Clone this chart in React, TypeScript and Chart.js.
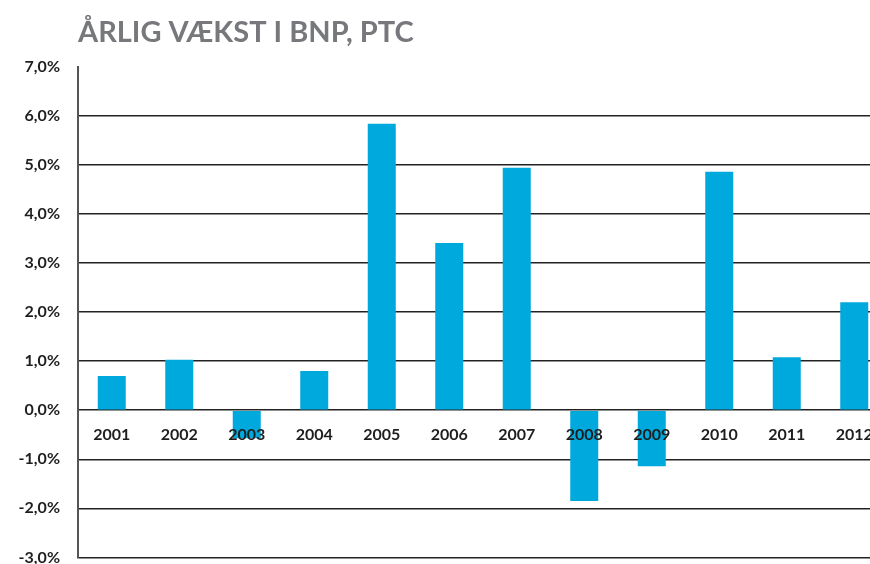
import { useEffect, useRef } from 'react';
import { Chart, registerables } from 'chart.js';

Chart.register(...registerables);

const chartTitle = 'ÅRLIG VÆKST I BNP, PTC';
const years = ['2001', '2002', '2003', '2004', '2005', '2006', '2007', '2008', '2009', '2010', '2011', '2012'];
const growth = [0.7, 1.03, -0.57, 0.8, 5.84, 3.41, 4.94, -1.85, -1.14, 4.86, 1.08, 2.2];
const yMin = -3;
const yMax = 7;

const fmt = (v: number) => v.toFixed(1).replace('.', ',') + '%';

export default function App() {
  const ref = useRef<HTMLCanvasElement>(null);
  useEffect(() => {
    document.body.style.margin = '0';
    const chart = new Chart(ref.current!, {
      type: 'bar',
      data: {
        labels: years,
        datasets: [
          {
            data: growth,
            backgroundColor: '#00a9dd',
            barPercentage: 0.415,
            categoryPercentage: 1,
          },
        ],
      },
      options: {
        responsive: false,
        animation: false,
        layout: { padding: { left: 0, right: 2, top: 0, bottom: 7 } },
        plugins: {
          legend: { display: false },
          tooltip: { enabled: false },
          title: {
            display: true,
            text: chartTitle,
            align: 'start',
            fullSize: false,
            color: '#77787b',
            font: { family: 'Lato', size: 29, weight: 'bold' },
            padding: { top: 15, bottom: 17 },
          },
        },
        scales: {
          x: {
            type: 'category',
            axis: 'x',
            position: { y: 0 } as any,
            grid: { display: false, drawTicks: false },
            border: { display: false },
            ticks: {
              z: 1,
              padding: 15,
              color: '#1e1e1e',
              font: { family: 'Lato', size: 16, weight: 'bold' },
              maxRotation: 0,
              autoSkip: false,
            },
          },
          y: {
            min: yMin,
            max: yMax,
            ticks: {
              stepSize: 1,
              callback: (v: any) => fmt(Number(v)),
              padding: 18,
              color: '#1e1e1e',
              font: { family: 'Lato', size: 16, weight: 'bold' },
            },
            grid: {
              color: (ctx: any) => (ctx.tick && ctx.tick.value === yMax ? 'rgba(0,0,0,0)' : '#222222'),
              lineWidth: 1.5,
              drawTicks: false,
            },
            border: { display: true, color: '#555', width: 2 },
            afterFit: (s: any) => {
              s.width = 78;
            },
          },
        },
      } as any,
    });
    return () => chart.destroy();
  }, []);
  return (
    <div style={{ position: 'fixed', left: 0, top: 0, width: 870, height: 564, overflow: 'hidden', background: '#fff' }}>
      <canvas ref={ref} width={890} height={585} style={{ display: 'block' }} />
    </div>
  );
}
